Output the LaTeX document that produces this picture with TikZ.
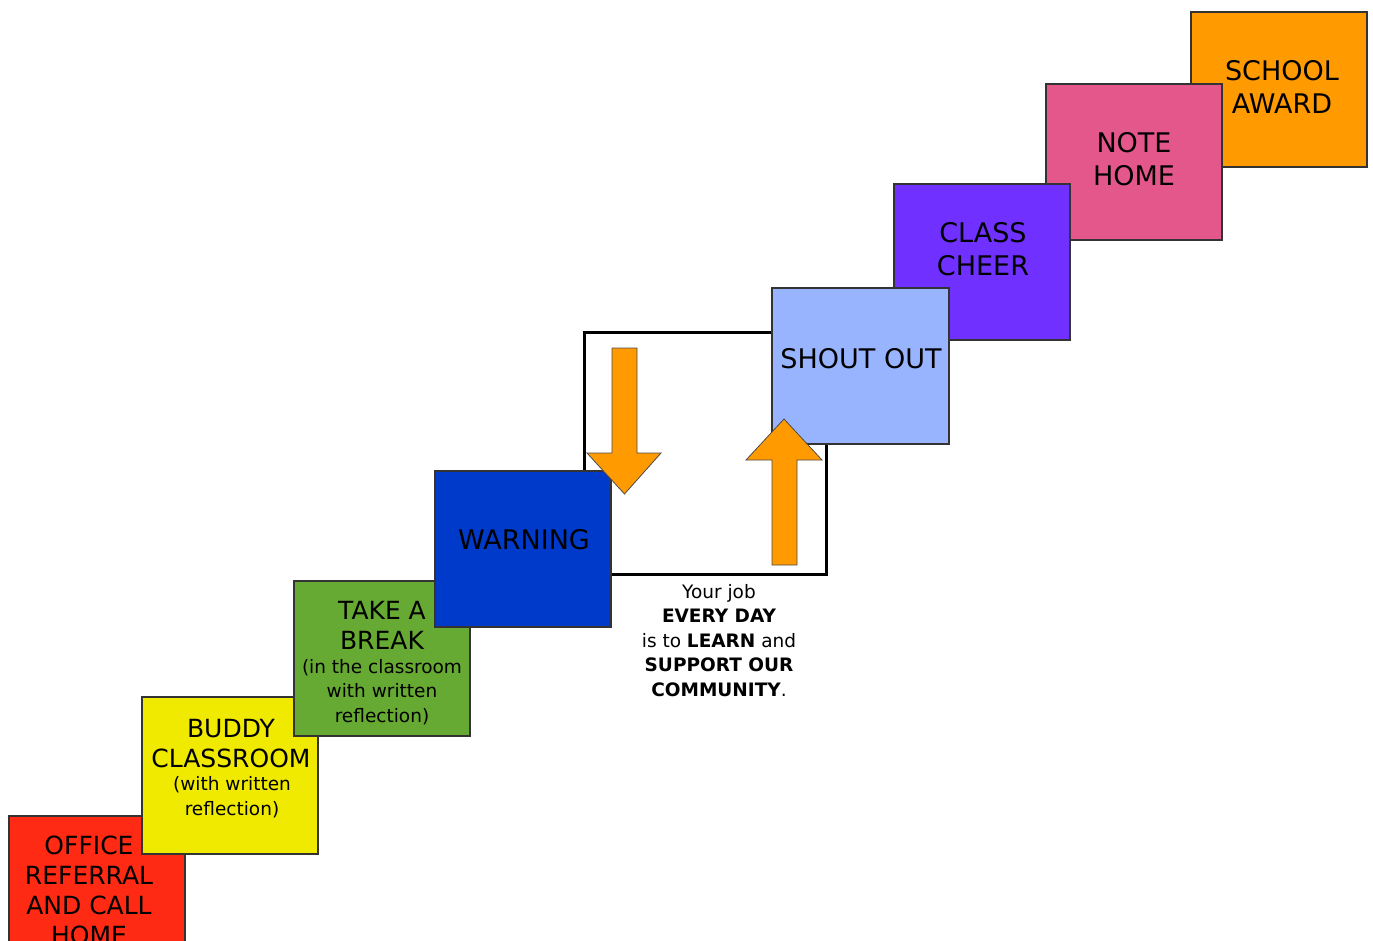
\documentclass[tikz,border=0pt]{standalone}
\usepackage{fontspec}
\setmainfont{DejaVu Sans}
\begin{document}
\begin{tikzpicture}[x=1pt,y=-1pt,
  step box/.style={draw=black!80,line width=1.2pt,anchor=north west,
    minimum width=176pt,minimum height=156pt,inner sep=0pt,outer sep=0pt},
  big/.style={align=center,font=\fontsize{27}{33}\selectfont,inner sep=0pt},
  mid/.style={align=center,font=\fontsize{25}{30}\selectfont,inner sep=0pt},
  small/.style={align=center,font=\fontsize{18.5}{24.5}\selectfont,inner sep=0pt},
  arrowfill/.style={fill=orangeA,draw=black!70,line width=0.8pt,line join=miter}]
\definecolor{redA}{HTML}{FF2A14}
\definecolor{yellowA}{HTML}{F0E900}
\definecolor{greenA}{HTML}{66AA33}
\definecolor{blueA}{HTML}{003ACA}
\definecolor{lblueA}{HTML}{99B4FF}
\definecolor{purpleA}{HTML}{7030FF}
\definecolor{pinkA}{HTML}{E4578B}
\definecolor{orangeA}{HTML}{FF9A00}
\useasboundingbox (0,0) rectangle (1373,940);
\begin{scope}
\clip (0,0) rectangle (1373,940);
% lower steps
\node[step box,fill=redA,minimum height=170pt] (office) at (9,816) {};
\node[step box,fill=yellowA,minimum height=157pt] (buddy) at (142,697) {};
\node[step box,fill=greenA,minimum height=155pt] (break) at (294,581) {};
% frame
\node[draw=black,line width=3pt,anchor=north west,minimum width=242pt,minimum height=242pt,inner sep=0pt,outer sep=0pt] (frame) at (584,332) {};
\node[step box,fill=blueA] (warning) at (435,471) {};
% upper steps
\node[step box,fill=orangeA,minimum height=155pt] (award) at (1191,12) {};
\node[step box,fill=pinkA] (note) at (1046,84) {};
\node[step box,fill=purpleA] (cheer) at (894,184) {};
\node[step box,fill=lblueA,minimum width=177pt] (shout) at (772,288) {};
% arrows
\draw[arrowfill] (612,348) -- (637,348) -- (637,453) -- (661,453) -- (624.5,494) -- (587,453) -- (612,453) -- cycle;
\draw[arrowfill] (772,565) -- (797,565) -- (797,460) -- (822,460) -- (784,419) -- (746,460) -- (772,460) -- cycle;
% labels
\node[mid] (office-t) at (89,890) {OFFICE\\REFERRAL\\AND CALL\\HOME};
\node[mid] (buddy-t) at (231,743.5) {BUDDY\\CLASSROOM};
\node[small] (buddy-s) at (232,797) {(with written\\reflection)};
\node[mid] (break-t) at (382,625) {TAKE A\\BREAK};
\node[small] (break-s) at (382,692) {(in the classroom\\with written\\reflection)};
\node[big] (warning-t) at (524,540) {WARNING};
\node[big] (shout-t) at (861,359) {SHOUT OUT};
\node[big] (cheer-t) at (983,249) {CLASS\\CHEER};
\node[big] (note-t) at (1134,159.5) {NOTE\\HOME};
\node[big] (award-t) at (1282,86.5) {SCHOOL\\AWARD};
\node[small] (job) at (719,640.5) {Your job\\{\bfseries EVERY DAY}\\is to {\bfseries LEARN} and\\{\bfseries SUPPORT OUR}\\{\bfseries COMMUNITY}.};
\end{scope}
\end{tikzpicture}
\end{document}
